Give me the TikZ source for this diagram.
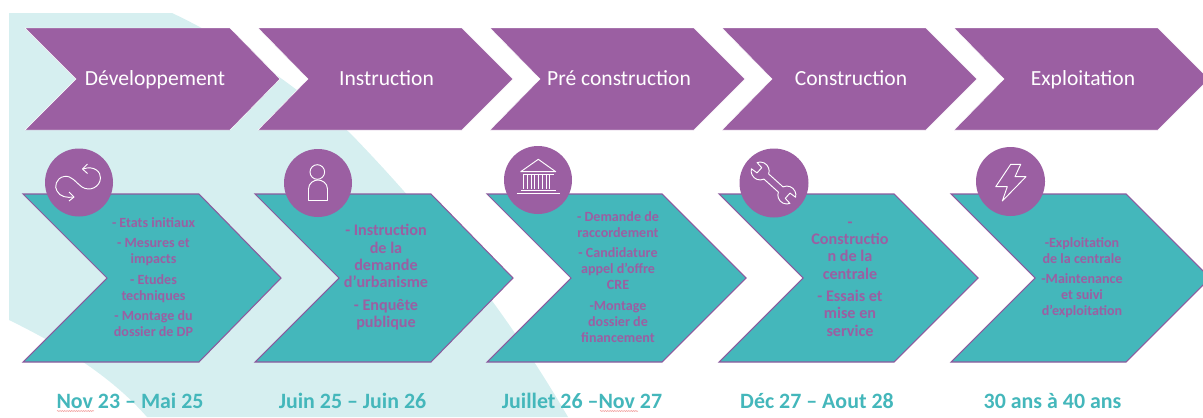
\documentclass[tikz,border=0pt]{standalone}
\usepackage{fontspec}
\setmainfont{Carlito}
\usetikzlibrary{decorations.pathmorphing}
\usepackage{xcolor}
\definecolor{violet}{HTML}{9B5FA2}
\definecolor{violetb}{HTML}{8C5A9E}
\definecolor{teal}{HTML}{44B7BB}
\definecolor{pale}{HTML}{D6EFF0}
\definecolor{squiggle}{HTML}{E8625F}
\tikzset{
  head/.style={fill=violet,draw=white,line width=0.4pt},
  body/.style={fill=teal,draw=violetb,line width=0.9pt},
  disc/.style={fill=violet,draw=none},
  icon/.style={draw=white,line width=0.8pt,line join=round},
  title/.style={text=white,font=\fontsize{18.4}{21}\selectfont,inner sep=0pt,text height=13pt,text depth=4pt},
  small/.style={text=violet,align=center,inner sep=0pt,font=\bfseries\fontsize{12}{13.6}\selectfont},
  large/.style={text=violet,align=center,inner sep=0pt,font=\bfseries\fontsize{13.8}{14.8}\selectfont},
  period/.style={text=teal,inner sep=0pt,font=\bfseries\fontsize{18.7}{21}\selectfont,text height=13pt,text depth=4pt},
  spell/.style={draw=squiggle,line width=0.35pt,decorate,decoration={snake,amplitude=0.3pt,segment length=2pt}}
}
\begin{document}
\begin{tikzpicture}[x=0.03cm,y=0.03cm]
\clip (0,0) rectangle (1203,-417);
\fill [pale] (9,-13) -- (172,-13) .. controls (240,-45) and (300,-90) .. (350,-133) .. controls (420,-205) and (500,-300) .. (568,-417) -- (147,-417) .. controls (110,-375) and (60,-345) .. (9,-320) -- cycle;
\draw [head] (25,-28) -- (230,-28) -- (280,-79) -- (230,-130) -- (25,-130) -- (76,-79) -- cycle;
\draw [head] (258,-28) -- (462,-28) -- (513,-79) -- (462,-130) -- (258,-130) -- (308,-79) -- cycle;
\draw [head] (490,-28) -- (694,-28) -- (745,-79) -- (694,-130) -- (490,-130) -- (540,-79) -- cycle;
\draw [head] (722,-28) -- (926,-28) -- (977,-79) -- (926,-130) -- (722,-130) -- (772,-79) -- cycle;
\draw [head] (954,-28) -- (1158,-28) -- (1209,-79) -- (1158,-130) -- (954,-130) -- (1004,-79) -- cycle;
\draw [body] (23,-194) -- (199,-194) -- (281,-278) -- (199,-362) -- (23,-362) -- (107,-278) -- cycle;
\draw [body] (255,-194) -- (431,-194) -- (513,-278) -- (431,-362) -- (255,-362) -- (339,-278) -- cycle;
\draw [body] (487,-194) -- (662,-194) -- (746,-278) -- (662,-362) -- (487,-362) -- (571,-278) -- cycle;
\draw [body] (719,-194) -- (894,-194) -- (978,-278) -- (894,-362) -- (719,-362) -- (803,-278) -- cycle;
\draw [body] (951,-194) -- (1126,-194) -- (1210,-278) -- (1126,-362) -- (951,-362) -- (1035,-278) -- cycle;
\fill [disc] (79,-182.5) circle (34);
\fill [disc] (318,-183) circle (34);
\fill [disc] (538,-180) circle (34);
\fill [disc] (774,-183) circle (34.5);
\fill [disc] (1010.5,-181.5) circle (34.5);
\draw [icon] (83,-169) .. controls (94,-165) and (101,-172) .. (100.5,-178) .. controls (100,-187) and (90,-192) .. (82,-187) .. controls (76,-183) and (72,-175) .. (64,-176.5) .. controls (56,-178) and (54,-187) .. (57,-191) .. controls (60,-197) and (67,-198) .. (74,-197);
\draw [icon] (87.5,-164) -- (82.5,-169) -- (87.5,-173.5);
\draw [icon] (69,-192) -- (74,-197) -- (69,-201);
\draw [icon] (317.3,-172) circle (7.3);
\draw [icon] (308.5,-200.5) -- (327.5,-200.5) -- (327.5,-189) .. controls (327.5,-183) and (322,-180) .. (318,-180) .. controls (314,-180) and (308.5,-183) .. (308.5,-189) -- cycle;
\draw [icon] (520.7,-171.7) -- (538.3,-159.3) -- (555.7,-171.7) -- cycle;
\draw [icon] (523,-174.5) -- (553.5,-174.5);
\draw [icon] (523.5,-175) -- (523.5,-189);
\draw [icon] (527,-175) -- (527,-189);
\draw [icon] (531,-175) -- (531,-189);
\draw [icon] (534.5,-175) -- (534.5,-189);
\draw [icon] (538.5,-175) -- (538.5,-189);
\draw [icon] (542,-175) -- (542,-189);
\draw [icon] (546,-175) -- (546,-189);
\draw [icon] (549.5,-175) -- (549.5,-189);
\draw [icon] (521,-190) -- (556,-190);
\draw [icon] (516.7,-193.3) -- (560,-193.3);
\begin{scope}[shift={(773.5,-183)},rotate=-42]
\draw [icon] (9.7,3.5) arc [start angle=157,end angle=28,radius=9] -- (19,3.5) -- (19,-3.5) -- (25.9,-4.2) arc [start angle=-28,end angle=-157,radius=9] -- (-9.7,-3.5) arc [start angle=-23,end angle=-152,radius=9] -- (-19,-3.5) -- (-19,3.5) -- (-25.9,4.2) arc [start angle=152,end angle=23,radius=9] -- cycle;
\end{scope}
\draw [icon] (1010.7,-164.3) -- (1020.7,-164.3) -- (1015,-176.7) -- (1026,-176.7) -- (1002.3,-201) -- (1007.3,-186.7) -- (995.7,-186.7) -- cycle;
\node [title] (t1) at (155,-80) {Développement};
\node [title] (t2) at (386.5,-80) {Instruction};
\node [title] (t3) at (619,-80) {Pré construction};
\node [title] (t4) at (851,-80) {Construction};
\node [title] (t5) at (1083,-80) {Exploitation};
\node [small] (d1) at (153.5,-277) {- Etats initiaux\\[4pt]- Mesures et\\impacts\\[4pt]- Etudes\\techniques\\[4pt]- Montage du\\dossier de DP};
\node [large] (d2) at (386,-277.5) {- Instruction\\de la\\demande\\d’urbanisme\\[4.5pt]- Enquête\\publique};
\node [small] (d3) at (618,-277) {- Demande de\\raccordement\\[4pt]- Candidature\\appel d’offre\\CRE\\[4pt]-Montage\\dossier de\\financement};
\node [large] (d4) at (850,-279) {-\\Constructio\\n de la\\centrale\\[4.5pt]- Essais et\\mise en\\service};
\node [small] (d5) at (1082,-277.5) {-Exploitation\\de la centrale\\[4pt]-Maintenance\\et suivi\\d’exploitation};
\node [period] (p1) at (130,-403.5) {Nov 23 – Mai 25};
\node [period] (p2) at (352.5,-403.5) {Juin 25 – Juin 26};
\node [period] (p3) at (582,-403.5) {Juillet 26 –Nov 27};
\node [period] (p4) at (817,-403.5) {Déc 27 – Aout 28};
\node [period] (p5) at (1052.5,-403.5) {30 ans à 40 ans};
\draw [spell] (57,-411) -- (94,-411);
\draw [spell] (600,-411) -- (638,-411);
\end{tikzpicture}
\end{document}
